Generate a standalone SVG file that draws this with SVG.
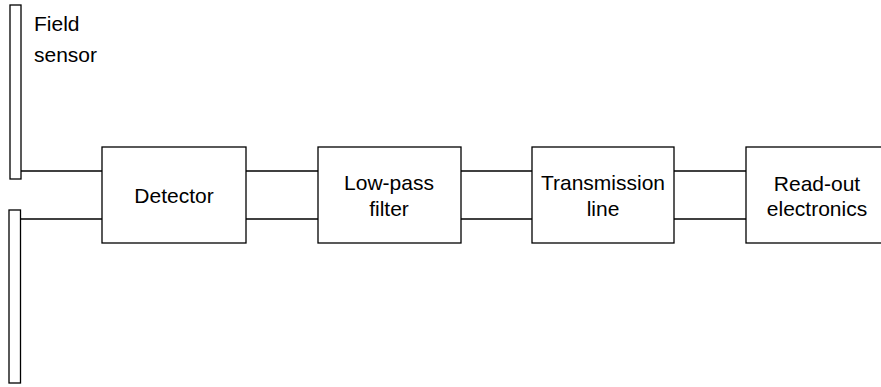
<svg xmlns="http://www.w3.org/2000/svg" width="881" height="387" viewBox="0 0 881 387">
<style>
.b{fill:#fff;stroke:#000;stroke-width:1.3}
.s{fill:none;stroke:#000;stroke-width:1.3}
.t{font-family:"Liberation Sans",Arial,sans-serif;font-size:21px;fill:#000}
.c{text-anchor:middle}
</style>
<rect width="881" height="387" fill="#fff"/>
<g id="connectors">
<line class="s" x1="21" y1="171" x2="102" y2="171"/>
<line class="s" x1="21" y1="219" x2="102" y2="219"/>
<line class="s" x1="246" y1="171" x2="318" y2="171"/>
<line class="s" x1="246" y1="219" x2="318" y2="219"/>
<line class="s" x1="461" y1="171" x2="532" y2="171"/>
<line class="s" x1="461" y1="219" x2="532" y2="219"/>
<line class="s" x1="674" y1="171" x2="746" y2="171"/>
<line class="s" x1="674" y1="219" x2="746" y2="219"/>
</g>
<g id="sensor-top">
<rect class="b" x="10" y="5" width="11" height="174"/>
<text class="t" x="34" y="31">Field</text>
<text class="t" x="34" y="62">sensor</text>
</g>
<g id="sensor-bottom">
<rect class="b" x="9" y="210" width="11.5" height="173"/>
</g>
<g id="detector">
<rect class="b" x="102" y="147" width="144" height="96"/>
<text class="t c" x="174" y="203">Detector</text>
</g>
<g id="lowpass">
<rect class="b" x="318" y="147" width="143" height="96"/>
<text class="t c" x="389" y="190">Low-pass</text>
<text class="t c" x="389" y="216">filter</text>
</g>
<g id="transmission">
<rect class="b" x="532" y="147" width="142" height="96"/>
<text class="t c" x="603" y="190">Transmission</text>
<text class="t c" x="603" y="216">line</text>
</g>
<g id="readout">
<rect class="b" x="746" y="147" width="142" height="96"/>
<text class="t c" x="817" y="191">Read-out</text>
<text class="t c" x="817" y="216">electronics</text>
</g>
</svg>
